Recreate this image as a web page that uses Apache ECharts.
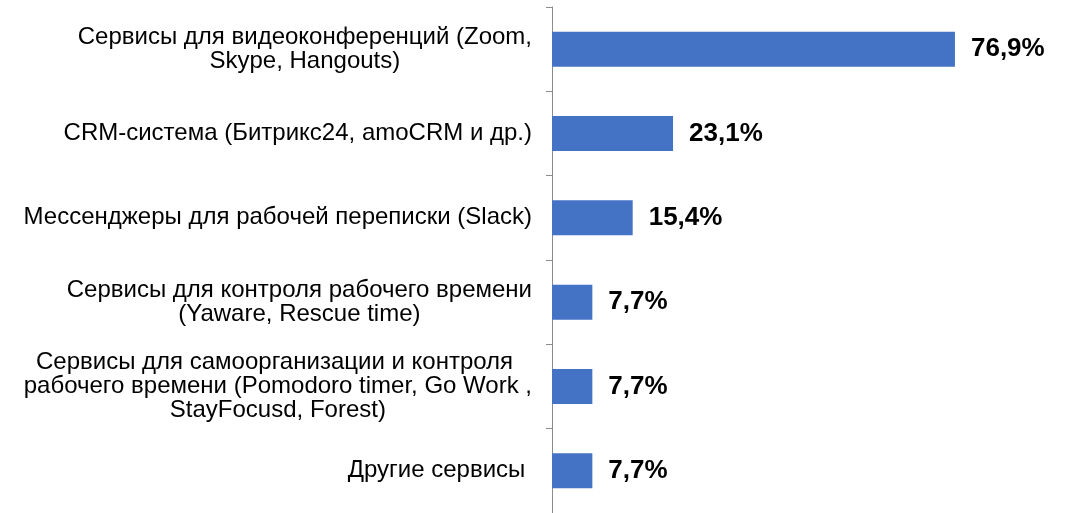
<!DOCTYPE html>
<html>
<head>
<meta charset="utf-8">
<script src="https://cdn.jsdelivr.net/npm/echarts@6/dist/echarts.min.js"></script>
<style>
  html, body { margin: 0; padding: 0; background: #fff; }
  #chart { width: 1076px; height: 513px; }
</style>
</head>
<body>
<div id="chart"></div>
<script>
// категории (сверху вниз)
const categories = [
  'Сервисы для видеоконференций (Zoom,\nSkype, Hangouts)',
  'CRM-система (Битрикс24, amoCRM и др.)',
  'Мессенджеры для рабочей переписки (Slack)',
  'Сервисы для контроля рабочего времени\n(Yaware, Rescue time)',
  'Сервисы для самоорганизации и контроля \nрабочего времени (Pomodoro timer, Go Work ,\nStayFocusd, Forest)',
  'Другие сервисы '
]
const values = [76.9, 23.1, 15.4, 7.7, 7.7, 7.7]

const myChart = echarts.init(document.getElementById('chart'))
myChart.setOption({
  animation: false,
  grid: {
    left: 552,
    top: 7,
    width: 525,
    height: 510
  },
  xAxis: {
    type: 'value',
    min: 0,
    max: 100,
    show: false
  },
  yAxis: {
    type: 'category',
    inverse: true,
    data: categories,
    axisLine: { lineStyle: { color: '#8c8c8c', width: 1 } },
    axisTick: { show: true, length: 6, lineStyle: { color: '#8c8c8c' } },
    axisLabel: {
      margin: 20,
      align: 'right',
      formatter: function(v) {
        return v.split('\n').map(s => '{c|' + s + '}').join('\n')
      },
      rich: {
        c: {
          align: 'center',
          fontFamily: 'Liberation Sans',
          fontSize: 24,
          lineHeight: 24,
          color: '#000'
        }
      }
    }
  },
  series: [
    {
      type: 'bar',
      data: values,
      barWidth: 35,
      itemStyle: { color: '#4472C4' },
      label: {
        show: true,
        position: 'right',
        distance: 16,
        fontFamily: 'Liberation Sans',
        fontWeight: 'bold',
        fontSize: 26,
        color: '#000',
        formatter: function(p) {
          return p.value.toFixed(1).replace('.', ',') + '%'
        }
      }
    }
  ]
})
window.addEventListener('resize', () => {
  myChart.resize()
})
</script>
</body>
</html>
